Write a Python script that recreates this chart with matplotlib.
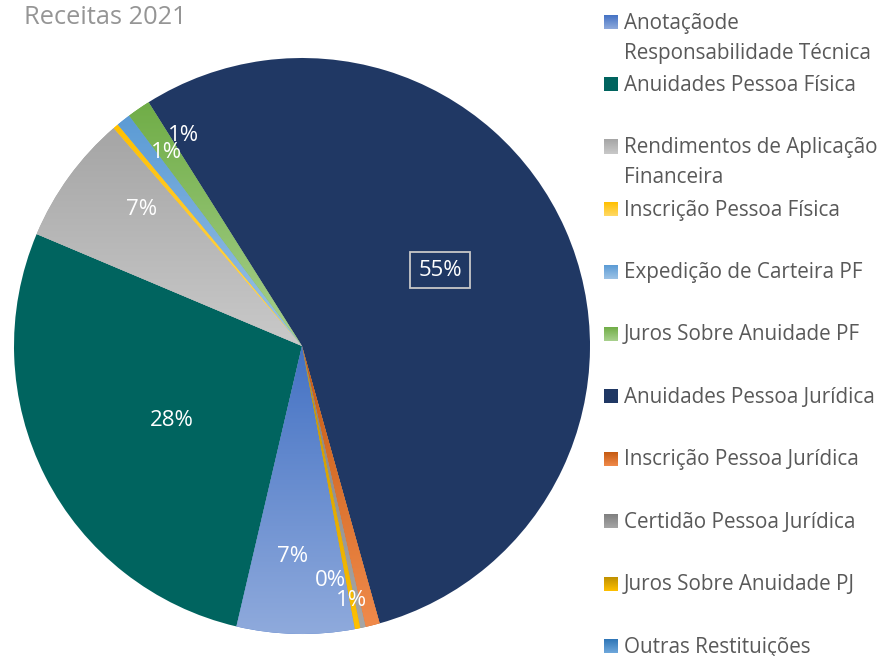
import numpy as np
import matplotlib
matplotlib.use('Agg')
import matplotlib.pyplot as plt
from matplotlib.colors import LinearSegmentedColormap

plt.rcParams['font.family'] = ['Open Sans', 'DejaVu Sans']

title = "Receitas 2021"
categories = ["Anotaçãode\nResponsabilidade Técnica", "Anuidades Pessoa Física",
              "Rendimentos de Aplicação\nFinanceira", "Inscrição Pessoa Física",
              "Expedição de Carteira PF", "Juros Sobre Anuidade PF",
              "Anuidades Pessoa Jurídica", "Inscrição Pessoa Jurídica",
              "Certidão Pessoa Jurídica", "Juros Sobre Anuidade PJ",
              "Outras Restituições"]
shares = [6.6, 27.7, 7.3, 0.3, 0.8, 1.3, 54.6, 0.8, 0.3, 0.3, 0.0]
shown_labels = [0, 1, 2, 4, 5, 6, 7, 9]

# style: (top colour, bottom colour) of vertical gradient
grad_colors = [("#4472C4", "#8FAADC"), ("#00645F", "#00645F"), ("#A5A5A5", "#C9C9C9"),
               ("#FFC000", "#FFD966"), ("#5B9BD5", "#9DC3E6"), ("#70AD47", "#A9D18E"),
               ("#203864", "#203864"), ("#C55A11", "#F08A4B"), ("#7F7F7F", "#A6A6A6"),
               ("#BF9000", "#FFC000"), ("#2E75B6", "#6FA8DC")]
# label layout: angle offset (deg) from wedge middle, radius fraction
label_layout = {0: (-1.4, 0.73), 1: (2.7, 0.52), 2: (-4.4, 0.73), 4: (-3.3, 0.82),
                5: (-5.1, 0.84), 6: (4.9, 0.547), 7: (-3.1, 0.90), 9: (-4.3, 0.82)}

W, H = 883, 656
fig = plt.figure(figsize=(W / 100, H / 100), dpi=100)
fig.patch.set_facecolor('white')

cx, cy, R = 302, 346, 288
ax = fig.add_axes([(cx - R) / W, (H - cy - R) / H, 2 * R / W, 2 * R / H])
wedges, _ = ax.pie(shares, startangle=-79.4, counterclock=False, radius=1,
                   wedgeprops=dict(linewidth=0))
grad = np.linspace(0, 1, 256).reshape(-1, 1)
for w, (c1, c2) in zip(wedges, grad_colors):
    w.set_facecolor(c1)
    if c1 != c2:
        ext = w.get_path().get_extents()
        cmap = LinearSegmentedColormap.from_list('g', [c1, c2])
        im = ax.imshow(grad, extent=[ext.x0, ext.x1, ext.y0, ext.y1], origin='upper',
                       cmap=cmap, aspect='auto', zorder=w.get_zorder(), interpolation='bilinear')
        im.set_clip_path(w)

total = sum(shares)
for i in shown_labels:
    w = wedges[i]
    off, rf = label_layout[i]
    mid = np.deg2rad((w.theta1 + w.theta2) / 2 + off)
    txt = f"{round(100 * shares[i] / total):.0f}%"
    kw = {}
    if i == 6:
        kw['bbox'] = dict(boxstyle='square,pad=0.35', fc='none', ec='#C8C8C8', lw=1.3)
    ax.text(rf * np.cos(mid), rf * np.sin(mid), txt, color='white', fontsize=16,
            ha='center', va='center', zorder=10, **kw)
ax.set_xlim(-1, 1)
ax.set_ylim(-1, 1)
ax.set_aspect('equal')
ax.axis('off')

# overlay in pixel coordinates for title and legend
lax = fig.add_axes([0, 0, 1, 1])
lax.set_xlim(0, W)
lax.set_ylim(H, 0)
lax.axis('off')
lax.text(24, 17, title, fontsize=18.3, color='#959595', ha='left', va='center')

for i, (name, (c1, c2)) in enumerate(zip(categories, grad_colors)):
    y = 22 + i * 62.4
    cmap = LinearSegmentedColormap.from_list('g', [c1, c2])
    lax.imshow(grad, extent=[604, 618, y + 7, y - 7], origin='upper', cmap=cmap,
               aspect='auto', interpolation='bilinear')
    for k, line in enumerate(name.split('\n')):
        lax.text(624, y + 1 + k * 30, line, fontsize=14.9, color='#595959',
                 ha='left', va='center')
lax.set_xlim(0, W)
lax.set_ylim(H, 0)

fig.savefig('out.png', dpi=100)
